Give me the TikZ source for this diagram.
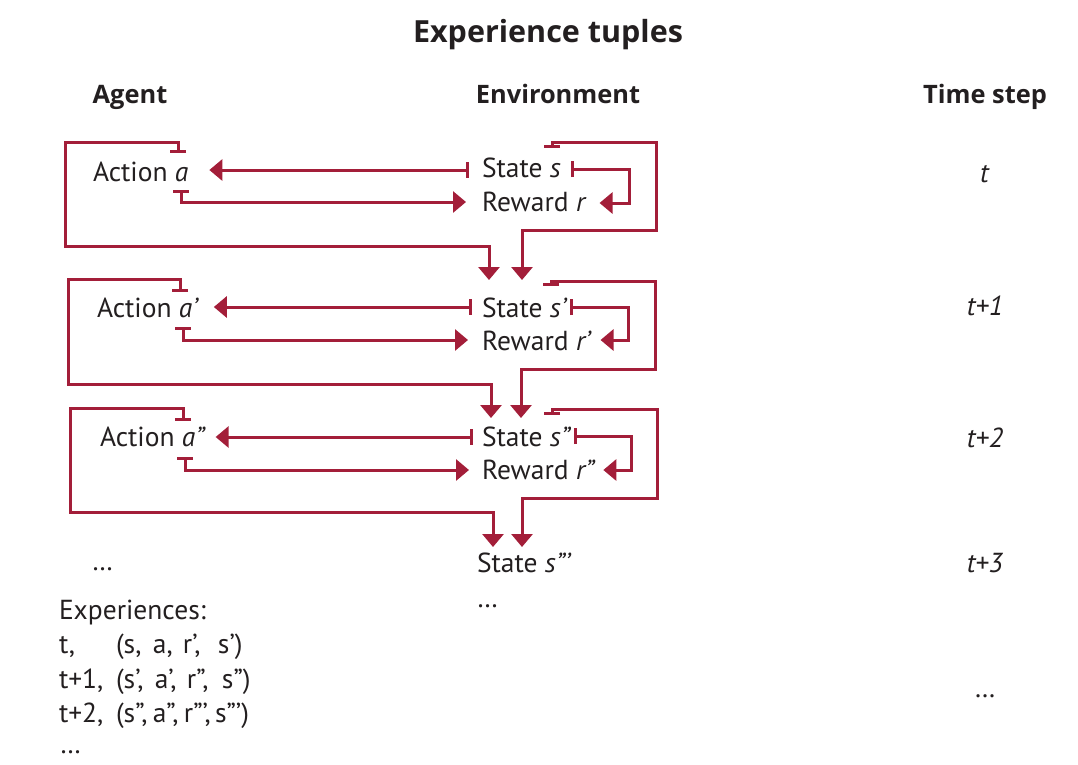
\documentclass[tikz,border=0pt]{standalone}
\usepackage{fontspec}
\setmainfont{PT Sans}
\newfontfamily\headfont{Open Sans}
\usepackage{xcolor}
\definecolor{crimson}{HTML}{A31E39}
\definecolor{ink}{HTML}{231F20}
\usetikzlibrary{arrows.meta}
\newcommand\tcell[2]{\makebox[#1][l]{#2}}

\begin{document}
\begin{tikzpicture}[x=1pt,y=-1pt,every node/.style={inner sep=0,outer sep=0,text=ink,font=\fontsize{27.5}{33}\selectfont},
    head/.style={font=\headfont\fontsize{25.4}{30}\selectfont\bfseries,anchor=base},
    txt/.style={anchor=base west},
    tstep/.style={anchor=base},
    link/.style={draw=crimson,line width=3pt,{Bar[width=16pt]}-{Triangle[length=13pt,width=21pt]}}]
    \useasboundingbox (0,0) rectangle (1078,764);
    \node (T) [anchor=base,font=\headfont\fontsize{30.5}{36}\selectfont\bfseries] at (548,42) {Experience tuples};
    \node (HA) [head] at (130,103) {Agent};
    \node (HE) [head] at (558,103) {Environment};
    \node (HT) [head] at (985,103) {Time step};
    \node (A1) [txt] at (93,181) {Action \textit{a}};
    \node (S1) [txt] at (482,177) {State \textit{s}};
    \node (R1) [txt] at (482,211) {Reward \textit{r}};
    \node (A2) [txt] at (97,317) {Action \textit{a’}};
    \node (S2) [txt] at (482,317) {State \textit{s’}};
    \node (R2) [txt] at (482,350) {Reward \textit{r’}};
    \node (A3) [txt] at (100,446) {Action \textit{a”}};
    \node (S3) [txt] at (482,446) {State \textit{s”}};
    \node (R3) [txt] at (482,479) {Reward \textit{r”}};
    \node (S4) [txt] at (477,572) {State \textit{s”’}};
    \node (D1) [txt] at (92,570) {…};
    \node (D2) [txt] at (477,607) {…};
    \node (T1) [tstep] at (985,182) {\textit{t}};
    \node (T2) [tstep] at (985,315) {\textit{t+1}};
    \node (T3) [tstep] at (985,447) {\textit{t+2}};
    \node (T4) [tstep] at (985,572) {\textit{t+3}};
    \node (T5) [tstep] at (985,697) {…};
    \node (E0) [txt] at (59,619) {Experiences:};
    \node (E1) [txt] at (59,653) {t,};
    \node (X1) [txt] at (116,653) {\tcell{37pt}{(s,}\tcell{30pt}{a,}\tcell{35pt}{r’,}s’)};
    \node (E2) [txt] at (59,688) {t+1,};
    \node (X2) [txt] at (116,688) {\tcell{39pt}{(s’,}\tcell{32pt}{a’,}\tcell{35pt}{r”,}s”)};
    \node (E3) [txt] at (59,722) {t+2,};
    \node (X3) [txt] at (116,722) {\tcell{37pt}{(s”,}\tcell{31pt}{a”,}\tcell{31pt}{r”’,}s”’)};
    \node (E4) [txt] at (60,753) {…};

    \draw[link] ([xshift=-13pt,yshift=7pt]S1.base west) -- ([xshift=21pt,yshift=11pt]A1.base east);
    \draw[link] ([xshift=88pt,yshift=-9pt]A1.base west) |- ([xshift=-16pt,yshift=9pt]R1.base west);
    \draw[link] ([xshift=10pt,yshift=8pt]S1.base east) -- ++(59,0) |- ([xshift=13pt,yshift=8pt]R1.base east);
    \draw[link] ([xshift=85pt,yshift=28pt]A1.base west) |- (65,142) |- (489,246) -- ([xshift=7pt,yshift=37pt]S2.base west);
    \draw[link] ([xshift=70pt,yshift=29pt]S1.base west) |- (656,142) |- (522,230) -- ([xshift=40pt,yshift=37pt]S2.base west);

    \draw[link] ([xshift=-10pt,yshift=10pt]S2.base west) -- ([xshift=15pt,yshift=10pt]A2.base east);
    \draw[link] ([xshift=86pt,yshift=-10pt]A2.base west) |- ([xshift=-14pt,yshift=10pt]R2.base west);
    \draw[link] ([xshift=3pt,yshift=10pt]S2.base east) -- ++(58,0) |- ([xshift=9pt,yshift=10pt]R2.base east);
    \draw[link] ([xshift=83pt,yshift=25pt]A2.base west) |- (68,279) |- (491,384) -- ([xshift=9pt,yshift=28pt]S3.base west);
    \draw[link] ([xshift=69pt,yshift=31pt]S2.base west) |- (655,281) |- (521,369) -- ([xshift=39pt,yshift=28pt]S3.base west);

    \draw[link] ([xshift=-9pt,yshift=9pt]S3.base west) -- ([xshift=10pt,yshift=9pt]A3.base east);
    \draw[link] ([xshift=85pt,yshift=-11pt]A3.base west) |- ([xshift=-13pt,yshift=9pt]R3.base west);
    \draw[link] ([xshift=3pt,yshift=10pt]S3.base east) -- ++(57,0) |- ([xshift=8pt,yshift=9pt]R3.base east);
    \draw[link] ([xshift=83pt,yshift=25pt]A3.base west) |- (70,408) |- (493,512) -- ([xshift=16pt,yshift=25pt]S4.base west);
    \draw[link] ([xshift=70pt,yshift=31pt]S3.base west) |- (657,409) |- (522,498) -- ([xshift=45pt,yshift=25pt]S4.base west);
\end{tikzpicture}
\end{document}
